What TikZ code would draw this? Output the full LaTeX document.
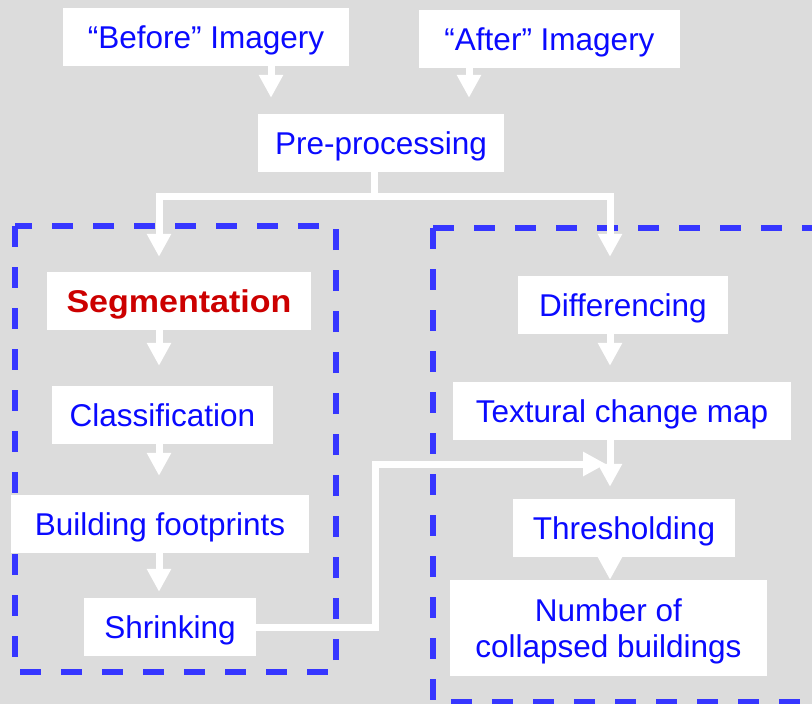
\documentclass[tikz,border=0pt]{standalone}
\usepackage{fontspec}
\setmainfont{Liberation Sans}
\usepackage{graphicx}
\usepackage{tikz}
\usetikzlibrary{arrows.meta}
\definecolor{bgray}{HTML}{DCDCDC}
\definecolor{tblue}{HTML}{0A0AFF}
\definecolor{dblue}{HTML}{3636FF}
\definecolor{tred}{HTML}{CC0000}
\tikzset{
  box/.style={fill=white,text=tblue,inner sep=0pt,minimum height=58pt,
    text height=23pt,text depth=0pt,font=\fontsize{31.5}{36}\selectfont},
  flow/.style={draw=white,line width=7pt,-{Triangle[width=23pt,length=23pt]}},
  group/.style={draw=dblue,line width=6.5pt,dash pattern=on 21pt off 20pt}
}
\begin{document}
\begin{tikzpicture}[x=1pt,y=-1pt]
\fill[bgray] (0,0) rectangle (812,704);
\useasboundingbox (0,0) rectangle (812,704);
\draw[group] (15,226) rectangle (336,672);
\draw[group] (433,228) -- (830,228);
\draw[group] (433,228) -- (433,702) -- (830,702);
\node[box,minimum width=286pt] (bef) at (206,37) {“Before” Imagery};
\node[box,minimum width=261pt] (aft) at (549.5,39) {“After” Imagery};
\node[box,minimum width=246pt] (pre) at (381,143) {Pre-processing};
\node[box,minimum width=264pt,text=tred] (seg) at (179,301) {\scalebox{1.08}[1]{\bfseries Segmentation}};
\node[box,minimum width=221pt] (cls) at (162.5,415) {Classification};
\node[box,minimum width=298pt] (bld) at (160,524) {Building footprints};
\node[box,minimum width=172pt] (shr) at (170,627) {Shrinking};
\node[box,minimum width=210pt] (dif) at (623,305) {Differencing};
\node[box,minimum width=338pt] (txt) at (622,411) {Textural change map};
\node[box,minimum width=222pt] (thr) at (624,528) {Thresholding};
\node[box,minimum width=317pt,minimum height=96pt,text height=59pt,align=center] (num) at (608.5,628) {Number of\\collapsed buildings};
\coordinate (colB) at (271,0);
\coordinate (colA) at (469,0);
\coordinate (colL) at (159,0);
\coordinate (colR) at (610,0);
\coordinate (split) at (374,196);
\coordinate (kink) at (375,627);
\coordinate (join) at (606,464);
\draw[flow,shorten >=16pt] (bef.south -| colB) -- (pre.north -| colB);
\draw[flow,shorten >=16pt] (aft.south -| colA) -- (pre.north -| colA);
\draw[flow,shorten >=15pt] (pre.south -| split) -- (split) -| (seg.north -| colL);
\draw[flow,shorten >=19pt] (split) -| (dif.north -| colR);
\draw[flow,shorten >=20pt] (seg.south -| colL) -- (cls.north -| colL);
\draw[flow,shorten >=19pt] (cls.south -| colL) -- (bld.north -| colL);
\draw[flow,shorten >=6pt] (bld.south -| colL) -- (shr.north -| colL);
\draw[flow,shorten >=16pt] (dif.south -| colR) -- (txt.north -| colR);
\draw[flow,shorten >=12pt] (txt.south -| colR) -- (thr.north -| colR);
\draw[flow] (thr.south -| colR) -- (num.north -| colR);
\draw[flow] (shr.east) -- (kink) |- (join);
\end{tikzpicture}
\end{document}
